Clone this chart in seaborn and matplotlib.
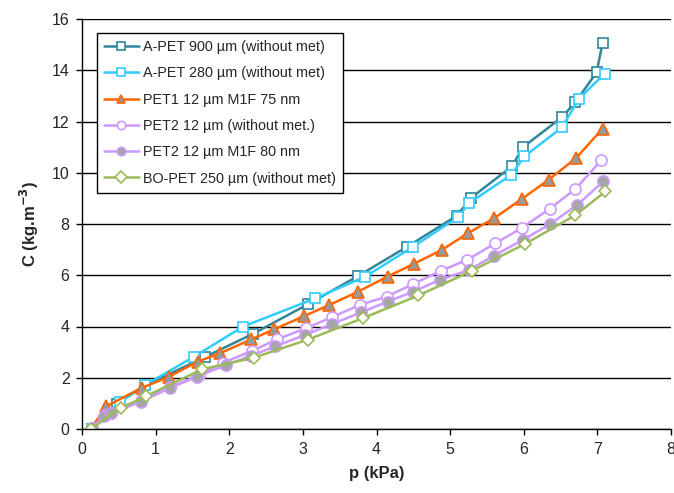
import numpy as np
import pandas as pd
import matplotlib
matplotlib.use("Agg")
import matplotlib.pyplot as plt
import seaborn as sns

labels = ["A-PET 900 \u00b5m (without met)", "A-PET 280 \u00b5m (without met)",
          "PET1 12 \u00b5m M1F 75 nm", "PET2 12 \u00b5m (without met.)",
          "PET2 12 \u00b5m M1F 80 nm", "BO-PET 250 \u00b5m (without met)"]

apet900_x = [0.13, 0.47, 0.86, 1.67, 2.32, 3.07, 3.75, 4.42, 5.09, 5.28, 5.84, 5.99, 6.52, 6.70, 6.99, 7.07]
apet900_y = [0.0, 0.98, 1.70, 2.81, 3.71, 4.87, 5.97, 7.12, 8.32, 9.01, 10.25, 11.0, 12.17, 12.75, 13.92, 15.07]

apet280_x = [0.13, 0.52, 0.86, 1.52, 2.19, 3.17, 3.85, 4.49, 5.11, 5.25, 5.83, 6.01, 6.52, 6.75, 7.10]
apet280_y = [0.0, 1.07, 1.72, 2.82, 4.0, 5.1, 5.95, 7.1, 8.27, 8.8, 9.92, 10.64, 11.77, 12.89, 13.87]

pet1_x = [0.12, 0.33, 0.81, 1.18, 1.57, 1.88, 2.30, 2.61, 3.02, 3.36, 3.75, 4.15, 4.51, 4.89, 5.24, 5.60, 5.97, 6.34, 6.71, 7.07]
pet1_y = [0.0, 0.89, 1.60, 2.04, 2.63, 2.96, 3.50, 3.89, 4.41, 4.84, 5.36, 5.95, 6.45, 6.99, 7.64, 8.23, 8.97, 9.73, 10.57, 11.72]

pet2_x = [0.14, 0.31, 0.40, 0.81, 1.20, 1.59, 1.92, 2.31, 2.65, 3.04, 3.40, 3.77, 4.14, 4.50, 4.88, 5.23, 5.61, 5.97, 6.35, 6.70, 7.05]
pet2_y = [0.03, 0.55, 0.64, 1.16, 1.63, 2.11, 2.59, 3.05, 3.50, 3.93, 4.37, 4.84, 5.17, 5.66, 6.18, 6.60, 7.24, 7.84, 8.59, 9.36, 10.48]

pet2m_x = [0.14, 0.30, 0.40, 0.80, 1.19, 1.56, 1.96, 2.29, 2.62, 3.03, 3.40, 3.79, 4.15, 4.50, 4.86, 5.26, 5.59, 5.99, 6.36, 6.73, 7.08]
pet2m_y = [0.04, 0.52, 0.61, 1.07, 1.59, 2.04, 2.50, 2.85, 3.22, 3.67, 4.10, 4.55, 4.97, 5.36, 5.82, 6.21, 6.76, 7.38, 8.00, 8.75, 9.66]

bopet_x = [0.12, 0.53, 0.87, 1.63, 2.33, 3.07, 3.81, 4.57, 5.30, 6.02, 6.70, 7.11]
bopet_y = [0.0, 0.83, 1.28, 2.33, 2.78, 3.49, 4.32, 5.21, 6.18, 7.23, 8.34, 9.27]

xs = [apet900_x, apet280_x, pet1_x, pet2_x, pet2m_x, bopet_x]
ys = [apet900_y, apet280_y, pet1_y, pet2_y, pet2m_y, bopet_y]

styles = [
    dict(color="#31859C", marker="s", mfc="white", mec="#31859C", ms=7.5),
    dict(color="#33CCFF", marker="s", mfc="white", mec="#33CCFF", ms=7.5),
    dict(color="#FF6600", marker="^", mfc="#999999", mec="#FF6600", ms=8),
    dict(color="#CC99FF", marker="o", mfc="white", mec="#CC99FF", ms=8),
    dict(color="#CC99FF", marker="o", mfc="#A6A6A6", mec="#CC99FF", ms=8),
    dict(color="#9BBB59", marker="D", mfc="white", mec="#9BBB59", ms=6.5),
]

sns.set_style("white")
plt.rcParams['font.family'] = ['Liberation Sans', 'DejaVu Sans']

fig = plt.figure(figsize=(6.74, 4.93), dpi=100)
ax = fig.add_axes([82/674, 1 - 429/493, 589/674, 410/493])

for lab, x, y, st in zip(labels, xs, ys, styles):
    df = pd.DataFrame({"p": x, "C": y})
    sns.lineplot(data=df, x="p", y="C", ax=ax, sort=False, estimator=None,
                 color=st["color"], marker=st["marker"], markerfacecolor=st["mfc"],
                 markeredgecolor=st["mec"], markersize=st["ms"], markeredgewidth=1.2,
                 linewidth=1.8, label=lab)

ax.set_xlim(0, 8)
ax.set_ylim(0, 16)
ax.set_xticks(range(0, 9))
ax.set_yticks(range(0, 17, 2))
ax.yaxis.grid(True, color="black", linewidth=1.0)
ax.set_axisbelow(True)
for s in ["top", "right"]:
    ax.spines[s].set_visible(False)
for s in ["left", "bottom"]:
    ax.spines[s].set_color("black")
    ax.spines[s].set_linewidth(1.0)
ax.tick_params(axis="both", direction="out", length=4, width=1, color="black",
               labelsize=11.5, bottom=True, left=True, pad=5)
ax.set_xlabel("p (kPa)", fontsize=12, fontweight="bold", labelpad=7)
ax.set_ylabel("C (kg.m$^{\\mathbf{-3}}$)", fontsize=12, fontweight="bold", labelpad=8)

leg = ax.legend(loc="upper left", bbox_to_anchor=(0.025, 0.966), fontsize=10.4,
                frameon=True, fancybox=False, edgecolor="black", framealpha=1,
                handlelength=2.4, borderpad=0.5, labelspacing=0.85, handletextpad=0.3,
                borderaxespad=0)
leg.get_frame().set_linewidth(1.0)
for h in leg.legend_handles:
    h.set_markersize(6)

fig.savefig("out.png", dpi=100)
